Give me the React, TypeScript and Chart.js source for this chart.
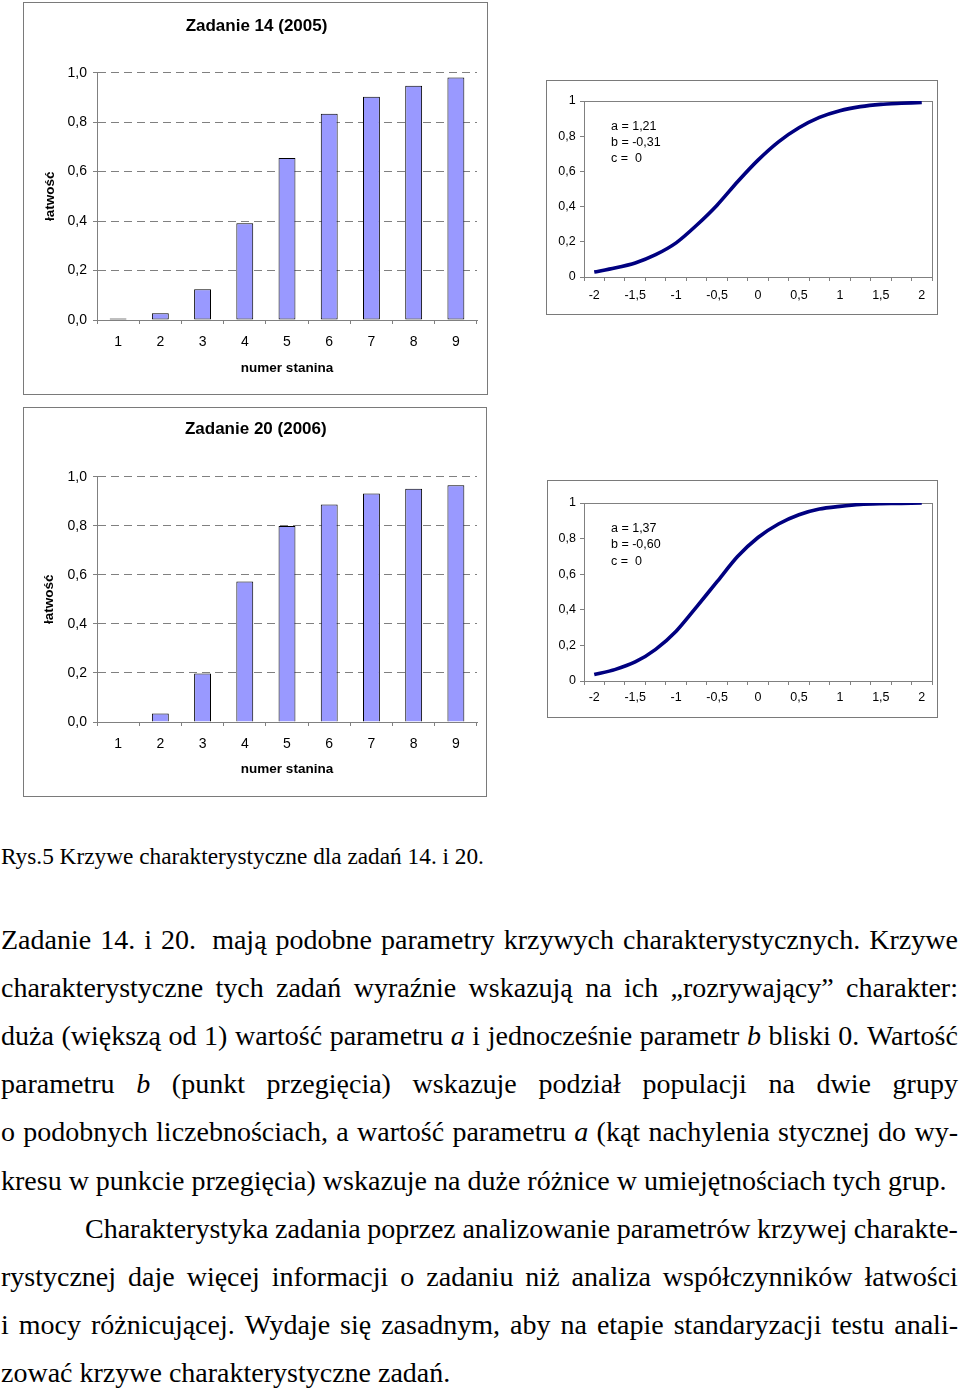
import React, { useEffect, useRef } from "react";
import { Chart, registerables } from "chart.js";

Chart.register(...registerables);
Chart.defaults.font.family = "Arial, 'Liberation Sans', sans-serif";
Chart.defaults.color = "#000";

// ---------- data ----------
const stanine = ["1", "2", "3", "4", "5", "6", "7", "8", "9"];
const easeZ14 = [0.006, 0.027, 0.124, 0.391, 0.655, 0.834, 0.903, 0.947, 0.981];
const easeZ20 = [0, 0.035, 0.198, 0.573, 0.799, 0.887, 0.932, 0.951, 0.965];

const theta = ["-2", "-1,75", "-1,5", "-1,25", "-1", "-0,75", "-0,5", "-0,25", "0", "0,25", "0,5", "0,75", "1", "1,25", "1,5", "1,75", "2"];
const iccZ14 = [0.028, 0.051, 0.08, 0.127, 0.194, 0.294, 0.408, 0.541, 0.664, 0.768, 0.848, 0.907, 0.945, 0.968, 0.981, 0.987, 0.992];
const iccZ20 = [0.036, 0.064, 0.107, 0.178, 0.28, 0.417, 0.558, 0.699, 0.806, 0.882, 0.934, 0.966, 0.981, 0.992, 0.996, 0.998, 1.0];

const paramsZ14 = ["a = 1,21", "b = -0,31", "c =  0"];
const paramsZ20 = ["a = 1,37", "b = -0,60", "c =  0"];

const caption = "Rys.5 Krzywe charakterystyczne dla zadań 14. i 20.";
const textLines: { t: string; justify: boolean; indent?: number }[] = [
  { t: "Zadanie 14. i 20.\u00a0 mają podobne parametry krzywych charakterystycznych. Krzywe", justify: true },
  { t: "charakterystyczne tych zadań wyraźnie wskazują na ich „rozrywający” charakter:", justify: true },
  { t: "duża (większą od 1) wartość parametru _a_ i jednocześnie parametr _b_ bliski 0. Wartość", justify: true },
  { t: "parametru _b_ (punkt przegięcia) wskazuje podział populacji na dwie grupy", justify: true },
  { t: "o podobnych liczebnościach, a wartość parametru _a_ (kąt nachylenia stycznej do wy-", justify: true },
  { t: "kresu w punkcie przegięcia) wskazuje na duże różnice w umiejętnościach tych grup.", justify: false },
  { t: "Charakterystyka zadania poprzez analizowanie parametrów krzywej charakte-", justify: true, indent: 84 },
  { t: "rystycznej daje więcej informacji o zadaniu niż analiza współczynników łatwości", justify: true },
  { t: "i mocy różnicującej. Wydaje się zasadnym, aby na etapie standaryzacji testu anali-", justify: true },
  { t: "zować krzywe charakterystyczne zadań.", justify: false },
];

const GRAY = "#808080";

type Frame = { left: number; top: number; w: number; h: number };

function frameStyle(f: Frame): React.CSSProperties {
  return {
    position: "absolute",
    left: f.left,
    top: f.top,
    width: f.w,
    height: f.h,
    border: "1px solid #7a7a7a",
    boxSizing: "border-box",
    background: "#fff",
  };
}

type BarGeom = {
  padLeft: number; yWidth: number; padRight: number; titleTop: number; titleBottom: number;
  xHeight: number; xTitlePad: number; xTickPad: number; yTitlePad: number;
};

function BarPanel({ frame, title, values, g, skipped }: { frame: Frame; title: string; values: number[]; g: BarGeom; skipped: any }) {
  const ref = useRef<HTMLCanvasElement>(null);
  useEffect(() => {
    const chart = new Chart(ref.current!, {
      type: "bar",
      data: {
        labels: stanine,
        datasets: [{
          data: values,
          backgroundColor: "#9999ff",
          borderColor: "#000",
          borderWidth: 1,
          borderSkipped: skipped,
          barPercentage: 0.4,
          categoryPercentage: 1,
        }],
      },
      options: {
        animation: false,
        responsive: false,
        events: [],
        layout: { padding: { left: g.padLeft, right: g.padRight, top: 0, bottom: 0 } },
        plugins: {
          legend: { display: false },
          tooltip: { enabled: false },
          title: {
            display: true, text: title, color: "#000",
            font: { size: 17, weight: "bold" },
            padding: { top: g.titleTop, bottom: g.titleBottom },
          },
        },
        scales: {
          x: {
            grid: { display: true, drawOnChartArea: false, drawTicks: true, tickLength: 4, offset: true, color: GRAY },
            border: { color: GRAY },
            ticks: { color: "#000", font: { size: 14 }, padding: g.xTickPad, autoSkip: false, maxRotation: 0 },
            title: { display: true, text: "numer stanina", color: "#000", font: { size: 13.5, weight: "bold" }, padding: { top: 0, bottom: g.xTitlePad } },
            afterFit: (s: any) => { s.height = g.xHeight; },
          },
          y: {
            min: 0, max: 1,
            ticks: { stepSize: 0.2, color: "#000", font: { size: 14 }, padding: 6, callback: (v: any) => Number(v).toFixed(1).replace(".", ",") },
            grid: { color: GRAY, tickLength: 4, tickColor: GRAY },
            border: { color: GRAY, dash: [8, 5] },
            title: { display: true, text: "łatwość", color: "#000", font: { size: 13.5, weight: "bold" }, padding: { top: g.yTitlePad, bottom: 0 } },
            afterFit: (s: any) => { s.width = g.yWidth; },
          },
        },
      } as any,
    });
    return () => chart.destroy();
  }, []);
  return (
    <div style={frameStyle(frame)}>
      <canvas ref={ref} width={frame.w - 2} height={frame.h - 2} style={{ position: "absolute", left: 0, top: 0, width: frame.w - 2, height: frame.h - 2 }} />
    </div>
  );
}

const plotBorder = {
  id: "plotBorder",
  beforeDatasetsDraw(chart: any) {
    const { ctx, chartArea: a } = chart;
    ctx.save();
    ctx.strokeStyle = GRAY;
    ctx.lineWidth = 1;
    ctx.strokeRect(Math.round(a.left) + 0.5, Math.round(a.top) + 0.5, Math.round(a.right - a.left), Math.round(a.bottom - a.top));
    ctx.restore();
  },
};

type LineGeom = { yWidth: number; padRight: number; padTop: number; xHeight: number; xTickPad: number; yTickPad: number; paramTop: number; paramLeft: number };

function LinePanel({ frame, values, params, g }: { frame: Frame; values: number[]; params: string[]; g: LineGeom }) {
  const ref = useRef<HTMLCanvasElement>(null);
  useEffect(() => {
    const chart = new Chart(ref.current!, {
      type: "line",
      data: {
        labels: theta,
        datasets: [{ data: values, borderColor: "#000080", borderWidth: 3.6, pointRadius: 0, tension: 0.25, fill: false }],
      },
      options: {
        animation: false,
        responsive: false,
        events: [],
        layout: { padding: { left: 0, right: g.padRight, top: g.padTop, bottom: 0 } },
        plugins: { legend: { display: false }, tooltip: { enabled: false } },
        scales: {
          x: {
            type: "category",
            offset: true,
            grid: { display: true, drawOnChartArea: false, drawTicks: true, offset: true, tickLength: 4, color: GRAY },
            border: { color: GRAY },
            ticks: {
              autoSkip: false, maxRotation: 0, padding: g.xTickPad, font: { size: 12.5 }, color: "#000",
              callback: (_v: any, i: number) => (i % 2 === 0 ? theta[i] : ""),
            },
            afterFit: (s: any) => { s.height = g.xHeight; },
          },
          y: {
            min: 0, max: 1,
            ticks: {
              stepSize: 0.2, padding: g.yTickPad, font: { size: 12.5 }, color: "#000",
              callback: (v: any) => (v === 0 ? "0" : v === 1 ? "1" : Number(v).toFixed(1).replace(".", ",")),
            },
            grid: { drawOnChartArea: false, tickLength: 4, color: GRAY },
            border: { color: GRAY },
            afterFit: (s: any) => { s.width = g.yWidth; },
          },
        },
      } as any,
      plugins: [plotBorder],
    });
    return () => chart.destroy();
  }, []);
  return (
    <>
      <div style={frameStyle(frame)}>
        <canvas ref={ref} width={frame.w - 2} height={frame.h - 2} style={{ position: "absolute", left: 0, top: 0, width: frame.w - 2, height: frame.h - 2 }} />
      </div>
      <div style={{ position: "absolute", left: g.paramLeft, top: g.paramTop, fontFamily: "Arial, 'Liberation Sans', sans-serif", fontSize: 12.5, lineHeight: "16.3px", whiteSpace: "pre", color: "#000" }}>
        {params.map((p, i) => <div key={i}>{p}</div>)}
      </div>
    </>
  );
}

function renderWords(t: string) {
  return t.split(" ").map((w, i) => {
    const m = w.match(/^_(.+)_$/);
    return m ? <i key={i}>{m[1]}</i> : <span key={i}>{w}</span>;
  });
}

function renderInline(t: string) {
  const parts = t.split(/(_[^_ ]+_)/);
  return parts.map((p, i) => {
    const m = p.match(/^_(.+)_$/);
    return m ? <i key={i}>{m[1]}</i> : <span key={i}>{p}</span>;
  });
}

export default function App() {
  const serif = "'Times New Roman', 'Liberation Serif', serif";
  return (
    <div style={{ position: "absolute", left: 0, top: 0, width: 960, height: 1389, background: "#fff", overflow: "hidden" }}>
      <BarPanel
        frame={{ left: 23, top: 2, w: 465, h: 393 }}
        title="Zadanie 14 (2005)"
        values={easeZ14}
        skipped={false}
        g={{ padLeft: 12, yWidth: 61, padRight: 10, titleTop: 12.8, titleBottom: 36.5, xHeight: 74, xTitlePad: 17.9, xTickPad: 9.6, yTitlePad: 5.9 }}
      />
      <LinePanel
        frame={{ left: 546, top: 80, w: 392, h: 235 }}
        values={iccZ14}
        params={paramsZ14}
        g={{ yWidth: 37, padRight: 5, padTop: 20, xHeight: 37, xTickPad: 7, yTickPad: 4.3, paramTop: 117.5, paramLeft: 611 }}
      />
      <BarPanel
        frame={{ left: 23, top: 407, w: 464, h: 390 }}
        title="Zadanie 20 (2006)"
        values={easeZ20}
        skipped={"start"}
        g={{ padLeft: 10.6, yWidth: 62.4, padRight: 9, titleTop: 11.1, titleBottom: 37.2, xHeight: 74, xTitlePad: 18.9, xTickPad: 9.6, yTitlePad: 6.3 }}
      />
      <LinePanel
        frame={{ left: 547, top: 480, w: 391, h: 238 }}
        values={iccZ20}
        params={paramsZ20}
        g={{ yWidth: 36, padRight: 5, padTop: 22, xHeight: 36, xTickPad: 5.2, yTickPad: 4, paramTop: 520, paramLeft: 611 }}
      />
      <div style={{ position: "absolute", left: 1, top: 845, fontFamily: serif, fontSize: 23.3, lineHeight: "23px", whiteSpace: "nowrap", color: "#000" }}>
        {caption}
      </div>
      {textLines.map((ln, i) => {
        const top = 916 + i * 48.1;
        const base: React.CSSProperties = {
          position: "absolute", left: 1 + (ln.indent || 0), top, width: 957 - (ln.indent || 0),
          fontFamily: serif, fontSize: 28, lineHeight: "48px", color: "#000", whiteSpace: "nowrap",
        };
        if (ln.justify) {
          return (
            <div key={i} style={{ ...base, display: "flex", justifyContent: "space-between" }}>
              {renderWords(ln.t)}
            </div>
          );
        }
        return <div key={i} style={base}>{renderInline(ln.t)}</div>;
      })}
    </div>
  );
}
